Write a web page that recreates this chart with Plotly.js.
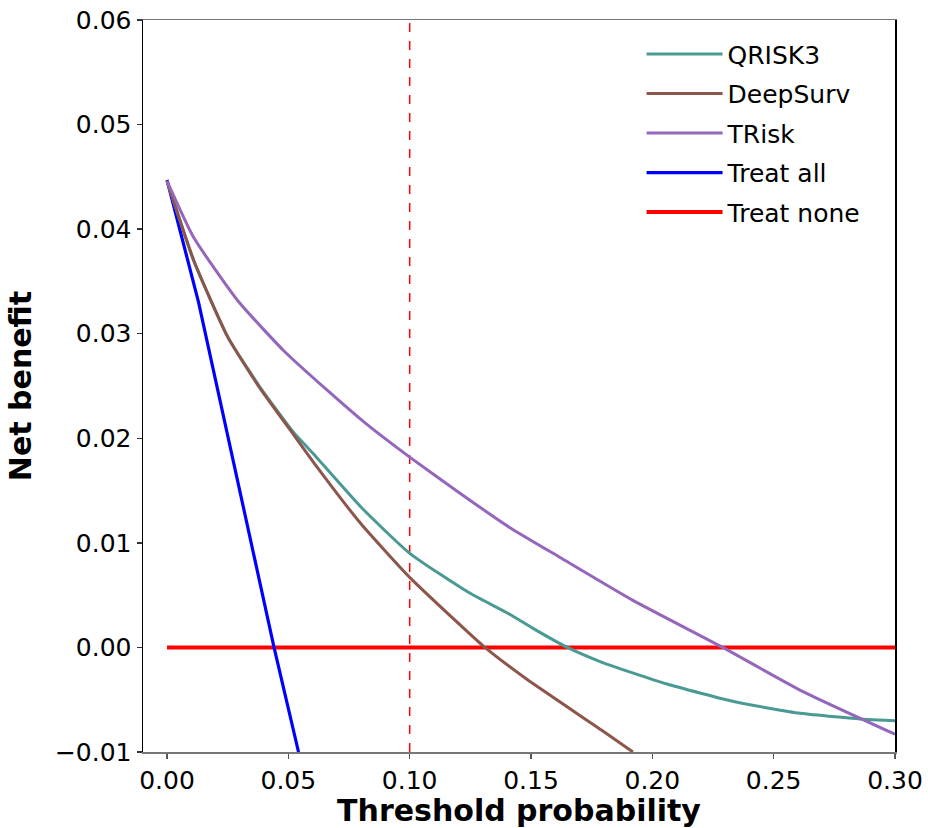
<!DOCTYPE html>
<html>
<head>
<meta charset="utf-8">
<script src="https://cdn.plot.ly/plotly-3.0.1.min.js"></script>
<style>html,body{margin:0;padding:0;background:#fff;}#chart{width:928px;height:828px;}</style>
</head>
<body>
<div id="chart"></div>
<script>
// Series names
const seriesNames = ["QRISK3", "DeepSurv", "TRisk", "Treat all", "Treat none"];

// QRISK3
const qriskX = [0, 0.011, 0.025, 0.038, 0.052, 0.060, 0.080, 0.100, 0.124, 0.141, 0.151, 0.165, 0.179, 0.206, 0.234, 0.261, 0.289, 0.300];
const qriskY = [0.0446, 0.0370, 0.0297, 0.0250, 0.0206, 0.0186, 0.0134, 0.0090, 0.0053, 0.0032, 0.0018, 0.0000, -0.0014, -0.0035, -0.0052, -0.0063, -0.0069, -0.0070];

// DeepSurv
const deepX = [0, 0.011, 0.025, 0.038, 0.052, 0.062, 0.080, 0.100, 0.121, 0.130, 0.148, 0.179, 0.192];
const deepY = [0.0446, 0.0370, 0.0297, 0.0249, 0.0204, 0.0172, 0.0118, 0.0067, 0.0021, 0.0002, -0.0030, -0.0079, -0.0100];

// TRisk
const triskX = [0, 0.011, 0.029, 0.048, 0.066, 0.082, 0.100, 0.121, 0.141, 0.162, 0.192, 0.229, 0.261, 0.300];
const triskY = [0.0446, 0.0392, 0.0332, 0.0284, 0.0246, 0.0214, 0.0182, 0.0147, 0.0115, 0.0086, 0.0045, 0.0000, -0.0041, -0.0083];

// Treat all
const allX = [0, 0.013, 0.0441, 0.0542];
const allY = [0.0447, 0.0330, 0.0000, -0.0100];

// Treat none
const noneX = [0, 0.30];
const noneY = [0, 0];

// Reference threshold (dashed line)
const refThreshold = [0.10];

// Axis ticks
const xTicks = [0.00, 0.05, 0.10, 0.15, 0.20, 0.25, 0.30];
const yTicks = [-0.01, 0.00, 0.01, 0.02, 0.03, 0.04, 0.05, 0.06];
const xRange = [-0.0099, 0.300];
const yRange = [-0.010, 0.060];

const colors = {QRISK3: "#4a9a93", DeepSurv: "#8c564b", TRisk: "#9467bd", all: "#0000ff", none: "#ff0000"};

const curve = {shape: "spline", smoothing: 0.5};

const traces = [
  {x: noneX, y: noneY, name: seriesNames[4], mode: "lines", line: {color: colors.none, width: 4}, legendrank: 5, legendgroup: "e"},
  {x: allX, y: allY, name: seriesNames[3], mode: "lines", line: {color: colors.all, width: 3.2}, legendrank: 4, legendgroup: "d"},
  {x: qriskX, y: qriskY, name: seriesNames[0], mode: "lines", line: Object.assign({color: colors.QRISK3, width: 3}, curve), legendrank: 1, legendgroup: "a"},
  {x: deepX, y: deepY, name: seriesNames[1], mode: "lines", line: Object.assign({color: colors.DeepSurv, width: 3}, curve), legendrank: 2, legendgroup: "b"},
  {x: triskX, y: triskY, name: seriesNames[2], mode: "lines", line: Object.assign({color: colors.TRisk, width: 3}, curve), legendrank: 3, legendgroup: "c"}
];

const font = "DejaVu Sans, sans-serif";

const layout = {
  width: 928, height: 828,
  margin: {l: 143, r: 33, t: 20, b: 76},
  paper_bgcolor: "#fff", plot_bgcolor: "#fff",
  font: {family: font, color: "#000", size: 25},
  showlegend: true,
  legend: {
    x: 0.663, y: 0.9845, xanchor: "left", yanchor: "top",
    bgcolor: "rgba(0,0,0,0)", borderwidth: 0,
    font: {family: font, size: 25, color: "#000"},
    itemwidth: 76, tracegroupgap: 4, traceorder: "grouped"
  },
  xaxis: {
    range: xRange, tickvals: xTicks, tickformat: ".2f",
    showgrid: false, zeroline: false,
    showline: true, linecolor: "#777", linewidth: 1.5, mirror: true,
    ticks: "outside", ticklen: 5, tickwidth: 1.5, tickcolor: "#555",
    tickfont: {family: font, size: 25, color: "#000"},
    title: {text: "<b>Threshold probability</b>", font: {family: font, size: 30, color: "#000"}, standoff: 4}
  },
  yaxis: {
    range: yRange, tickvals: yTicks, tickformat: ".2f",
    showgrid: false, zeroline: false,
    showline: true, linecolor: "#000", linewidth: 1.5, mirror: true,
    ticks: "outside", ticklen: 5, tickwidth: 1.5, tickcolor: "#333",
    tickfont: {family: font, size: 25, color: "#000"},
    title: {text: "<b>Net benefit</b>", font: {family: font, size: 30, color: "#000"}, standoff: 14}
  },
  shapes: refThreshold.map(v => ({
    type: "line", xref: "x", yref: "paper", x0: v, x1: v, y0: 0, y1: 1,
    line: {color: "#ff0000", width: 1.5, dash: "dash"}, layer: "below"
  }))
};

Plotly.newPlot("chart", traces, layout, {displayModeBar: false, staticPlot: true});
</script>
</body>
</html>
